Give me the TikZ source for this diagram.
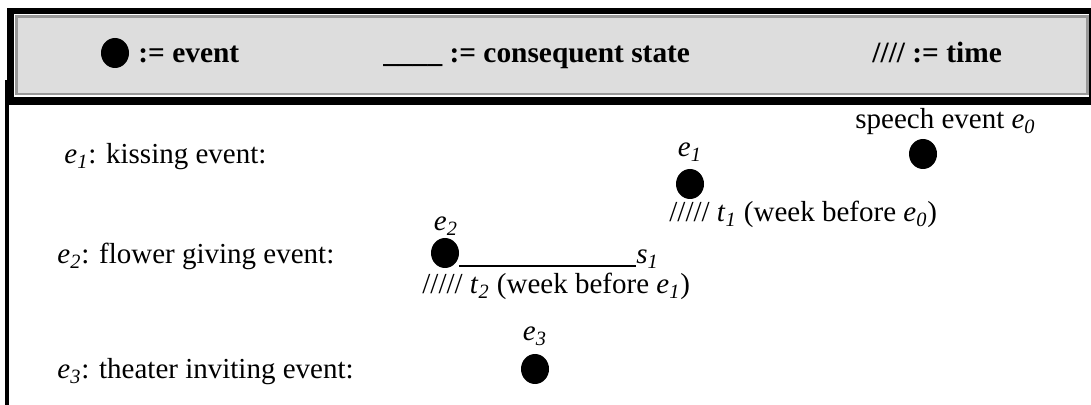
\documentclass[tikz,border=0pt]{standalone}
\usepackage{fontspec}
\setmainfont{Liberation Serif}
\usetikzlibrary{shapes.geometric}
\definecolor{hdrfill}{HTML}{DDDDDD}
\definecolor{hdrline}{HTML}{999999}
\newcommand\ev[1]{\textit{e}\textsubscript{\textit{#1}}}
\newcommand\tv[1]{\textit{t}\textsubscript{\textit{#1}}}
\newcommand\sv[1]{\textit{s}\textsubscript{\textit{#1}}}
\begin{document}
\begin{tikzpicture}[x=0.5pt,y=-0.5pt,
  txt/.style={inner sep=0pt, anchor=base west, font=\fontsize{14.5}{17}\selectfont},
  hdr/.style={inner sep=0pt, anchor=base west, font=\fontsize{14.7}{17}\selectfont\bfseries},
  lbl/.style={inner sep=0pt, anchor=base, font=\fontsize{14.5}{17}\selectfont},
  dot/.style={ellipse, fill=black, minimum width=14pt, minimum height=15pt, inner sep=0pt}]
\useasboundingbox (0,0) rectangle (1091,405);
\fill[white] (0,0) rectangle (1091,405);
% frame
\fill[black] (5,80) rectangle (9,405);
\fill[black] (7,8) rectangle (1091,105);
\fill[white] (14,14) rectangle (1089,97);
\draw[hdrline, fill=hdrfill, line width=1.2pt] (16.5,16.5) rectangle (1087.5,94);
% header legend
\node[dot] (hd) at (115,53) {};
\node[hdr] (lev) at (138,63) {:= event};
\node[hdr] (lcs) at (383,63) {\_\_\_\_ := consequent state};
\node[hdr] (ltm) at (872,63) {//// := time};
% row labels
\node[txt] (k) at (64,164) {\ev{1}: kissing event:};
\node[txt] (f) at (57,264) {\ev{2}: flower giving event:};
\node[txt] (th) at (57,379) {\ev{3}: theater inviting event:};
% speech event
\node[txt] (sp) at (855,129) {speech event \ev{0}};
\node[dot] (e0) at (923,154) {};
% e1
\node[lbl] (e1l) at (690,157) {\ev{1}};
\node[dot] (e1) at (690,184) {};
\node[txt] (t1) at (669,222) {///// \tv{1} (week before \ev{0})};
% e2
\node[lbl] (e2l) at (446,231) {\ev{2}};
\node[dot] (e2) at (445,253) {};
\node[txt] (s1) at (636,264) {\sv{1}};
\draw[line width=0.8pt] ([yshift=-1pt]e2.east |- s1.base) -- ([yshift=-1pt]s1.base west);
\node[txt] (t2) at (422,294) {///// \tv{2} (week before \ev{1})};
% e3
\node[lbl] (e3l) at (535,341) {\ev{3}};
\node[dot] (e3) at (535,369) {};
\end{tikzpicture}
\end{document}
